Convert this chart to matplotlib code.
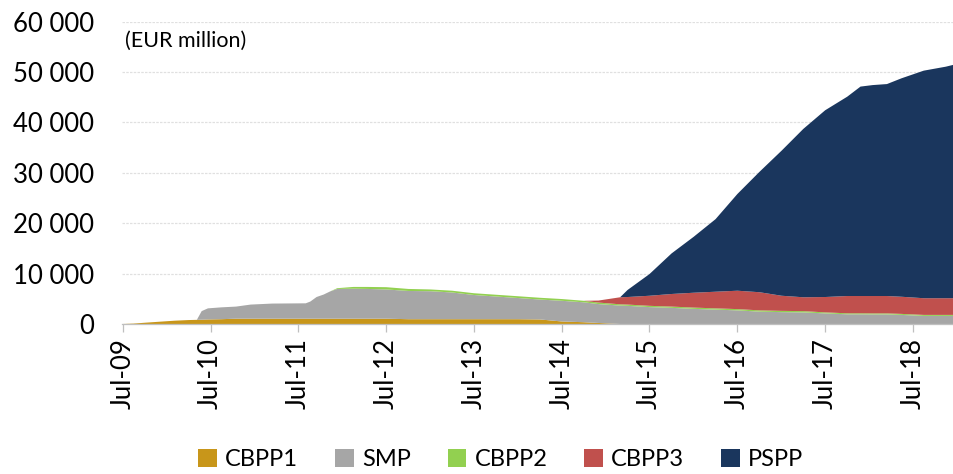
import datetime as dt
import numpy as np
import matplotlib
matplotlib.use("Agg")
import matplotlib.pyplot as plt
from matplotlib.patches import Patch

# readings (EUR million), stacked bottom -> top
dates = ["2009-07-01", "2009-08-15", "2009-10-01", "2009-12-01", "2010-02-01",
         "2010-04-01", "2010-05-05", "2010-05-25", "2010-06-20", "2010-08-15",
         "2010-10-15", "2010-12-15", "2011-03-15", "2011-08-01", "2011-08-20",
         "2011-09-15", "2011-10-15", "2011-11-10", "2011-12-10", "2012-02-15",
         "2012-04-15", "2012-07-01", "2012-10-01", "2013-01-01", "2013-04-01",
         "2013-07-01", "2013-10-01", "2014-01-01", "2014-04-01", "2014-07-01",
         "2014-10-01", "2014-12-01", "2015-03-01", "2015-04-01", "2015-07-01",
         "2015-10-01", "2016-01-01", "2016-04-01", "2016-07-01", "2016-10-01",
         "2017-01-01", "2017-04-01", "2017-07-01", "2017-10-01", "2017-11-25",
         "2018-01-15", "2018-03-15", "2018-05-15", "2018-08-15", "2018-11-15",
         "2018-12-15"]

cbpp1 = [0, 80, 250, 450, 650, 780, 820, 850, 900, 950,
         1050, 1050, 1050, 1050, 1050, 1050, 1050, 1050, 1050, 1050,
         1050, 1050, 950, 950, 950, 950, 950, 950, 900, 500,
         350, 200, 0, 0, 0, 0, 0, 0, 0, 0,
         0, 0, 0, 0, 0, 0, 0, 0, 0, 0, 0]
smp = [0, 0, 0, 0, 0, 0, 0, 1700, 2200, 2350,
       2400, 2800, 3000, 3050, 3400, 4300, 4800, 5400, 5900, 5950,
       5900, 5800, 5600, 5550, 5300, 4800, 4500, 4200, 3950, 4100,
       3950, 3750, 3650, 3600, 3350, 3200, 3000, 2850, 2700, 2450,
       2350, 2300, 2100, 1920, 1920, 1900, 1900, 1800, 1600, 1600, 1600]
cbpp2 = [0, 0, 0, 0, 0, 0, 0, 0, 0, 0,
         0, 0, 0, 0, 0, 0, 0, 0, 150, 350,
         400, 450, 400, 350, 350, 350, 350, 350, 350, 350,
         300, 300, 250, 250, 250, 250, 250, 250, 250, 250,
         250, 250, 200, 200, 200, 200, 200, 200, 200, 200, 200]
cbpp3 = [0] * 30 + [0, 400, 1400, 1500, 2000, 2500, 2950, 3300, 3650, 3600,
                    3000, 2750, 3050, 3430, 3430, 3450, 3450, 3400, 3310, 3310, 3310]
pspp = [0] * 33 + [1400, 4300, 8050, 11100, 14400, 19200, 23900,
                   28800, 33400, 37050, 39550, 41550, 41850, 42050, 43350,
                   45150, 45940, 46290]

labels = ["CBPP1", "SMP", "CBPP2", "CBPP3", "PSPP"]
colors = ["#C8961A", "#A6A6A6", "#92D050", "#C0504D", "#1A365D"]
yticks = [0, 10000, 20000, 30000, 40000, 50000, 60000]
xtick_years = list(range(2009, 2019))

plt.rcParams['font.family'] = ['Lato', 'DejaVu Sans']

x = [dt.datetime.strptime(d, "%Y-%m-%d") for d in dates]
fig = plt.figure(figsize=(9.54, 4.74), dpi=100)
ax = fig.add_axes([0.128, 0.3165, 0.872, 0.638])

ax.stackplot(x, cbpp1, smp, cbpp2, cbpp3, pspp, colors=colors, linewidth=0)

start = dt.datetime(2009, 6, 28)
ax.set_xlim(start, start + dt.timedelta(days=3461))
ax.set_ylim(0, 60000)

ax.set_yticks(yticks)
ax.set_yticklabels([f"{v:,.0f}".replace(",", " ") for v in yticks])
ax.yaxis.grid(True, color="#E0E0E0", linewidth=0.9, linestyle=(0, (2, 1)))
ax.set_axisbelow(True)
ax.tick_params(axis="y", length=0, labelsize=18.5, pad=20, colors="#000000")

ax.set_xticks([dt.datetime(y, 7, 1) for y in xtick_years])
ax.set_xticklabels([f"Jul-{y % 100:02d}" for y in xtick_years], rotation=90)
ax.tick_params(axis="x", length=6, width=0.9, color="#BFBFBF", labelsize=18.5, pad=4)

for s in ["left", "right", "top"]:
    ax.spines[s].set_visible(False)
ax.spines["bottom"].set_color("#BFBFBF")
ax.spines["bottom"].set_linewidth(0.9)

ax.text(0.004, 0.97, "(EUR million)", transform=ax.transAxes, fontsize=15.5,
        va="top", ha="left")

handles = [Patch(facecolor=c, edgecolor="none") for c in colors]
fig.legend(handles, labels, loc="center", bbox_to_anchor=(0.525, 0.031), ncol=5,
           frameon=False, fontsize=17, handlelength=0.8, handleheight=0.8,
           handletextpad=0.35, columnspacing=1.55)

fig.savefig("out.png", dpi=100)
